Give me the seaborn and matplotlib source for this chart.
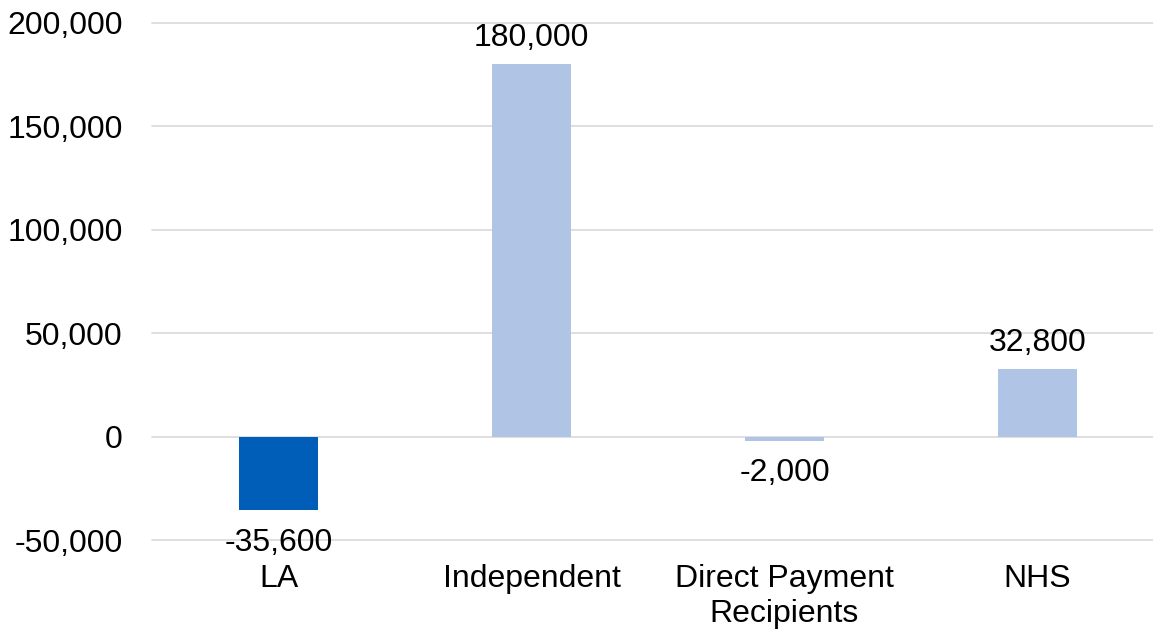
import matplotlib
matplotlib.use("Agg")
import matplotlib.pyplot as plt
import matplotlib.ticker as mticker
import seaborn as sns
import pandas as pd

# Change in workforce by employer type
categories = ["LA", "Independent", "Direct Payment\nRecipients", "NHS"]
values = [-35600, 180000, -2000, 32800]
bar_colors = ["#005EB8", "#B0C4E6", "#B0C4E6", "#B0C4E6"]
y_ticks = [-50000, 0, 50000, 100000, 150000, 200000]

sns.set_theme(style="white")
plt.rcParams["font.family"] = ["Liberation Sans", "DejaVu Sans"]

df = pd.DataFrame({"category": categories, "value": values})

W, H = 1153, 630
fig = plt.figure(figsize=(W / 100, H / 100), dpi=100)
ax = fig.add_axes([152 / W, (H - 540) / H, 1012 / W, (540 - 22.5) / H])

sns.barplot(data=df, x="category", y="value", hue="category",
            palette=bar_colors, width=0.316, legend=False, ax=ax,
            saturation=1, linewidth=0, edgecolor="none", zorder=3)

ax.set_ylim(-50000, 200000)
ax.set_xlim(-0.5, 3.5)
ax.set_yticks(y_ticks)
ax.yaxis.set_major_formatter(mticker.FuncFormatter(lambda v, p: f"{v:,.0f}"))
ax.grid(axis="y", color="#D9D9D9", linewidth=1.2, zorder=0)
ax.grid(axis="x", visible=False)
for gl in ax.get_ygridlines():
    gl.set_clip_on(False)
for s in ax.spines.values():
    s.set_visible(False)

ax.tick_params(axis="y", length=0, pad=21, labelsize=23, labelcolor="#000000")
ax.tick_params(axis="x", length=0, pad=17.5, labelsize=23, labelcolor="#000000")
for lbl in ax.get_xticklabels():
    lbl.set_linespacing(1.2)
ax.set_xlabel("")
ax.set_ylabel("")

# Value labels: above positive bars, below negative ones
for i, v in enumerate(values):
    if v >= 0:
        ax.annotate(f"{v:,.0f}", xy=(i, v), xytext=(0, 7.5),
                    textcoords="offset points", ha="center", va="bottom",
                    fontsize=23, color="#000000", annotation_clip=False)
    else:
        ax.annotate(f"{v:,.0f}", xy=(i, v), xytext=(0, -12.5),
                    textcoords="offset points", ha="center", va="top",
                    fontsize=23, color="#000000", annotation_clip=False,
                    zorder=5)

fig.savefig("out.png", dpi=100)
